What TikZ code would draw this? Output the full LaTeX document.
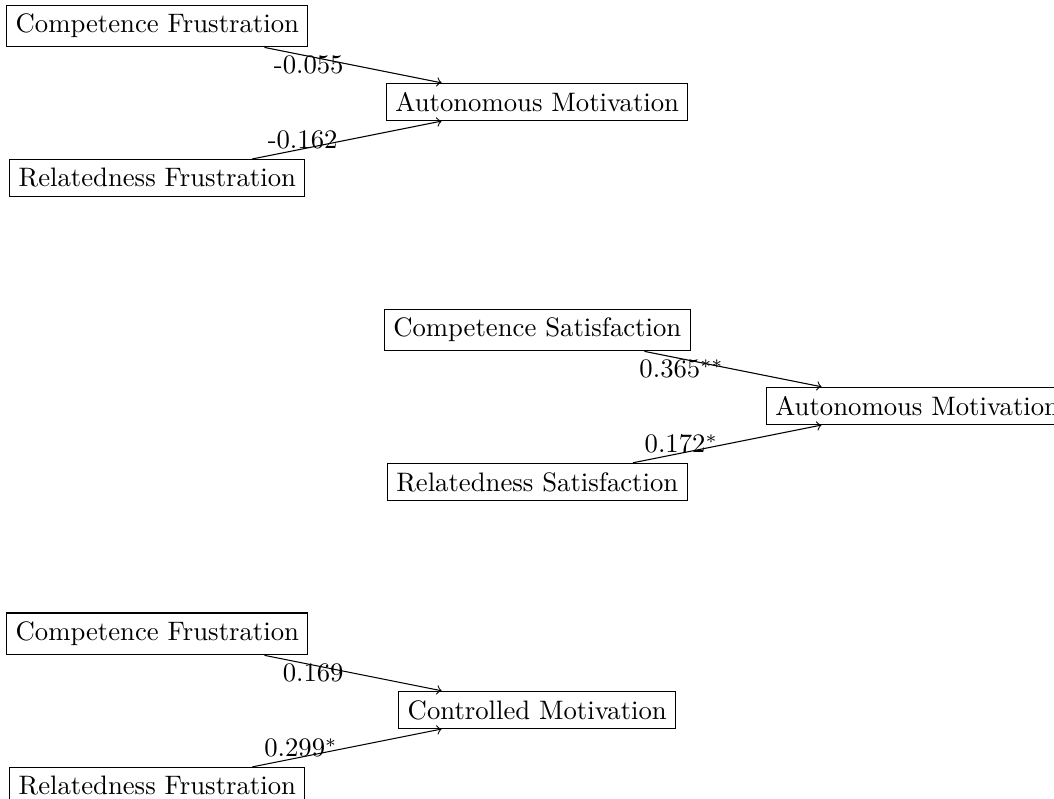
\documentclass[tikz,border=0pt]{standalone}
\begin{document}
\begin{tikzpicture}[box/.style={draw,rectangle}]
        \clip (-2.07,0.342) rectangle (11.80,-10.16);
        % autonomous motivation, frustration
        \node[box] (cf1) at (0,0) {Competence Frustration};
        \node[box] (am1) at (5,-1) {Autonomous Motivation};
        \node[box] (rf1) at (0,-2) {Relatedness Frustration};
        \draw[->] (cf1) -- (am1) node[midway,left] {-0.055};
        \draw[->] (rf1) -- (am1) node[midway,left] {-0.162};
        % autonomous motivation, satisfaction
        \node[box] (cs2) at (5,-4) {Competence Satisfaction};
        \node[box] (am2) at (10,-5) {Autonomous Motivation};
        \node[box] (rs2) at (5,-6) {Relatedness Satisfaction};
        \draw[->] (cs2) -- (am2) node[midway,left] {0.365$^{**}$};
        \draw[->] (rs2) -- (am2) node[midway,left] {0.172$^{*}$};
        % controlled motivation, frustration
        \node[box] (cf3) at (0,-8) {Competence Frustration};
        \node[box] (cm3) at (5,-9) {Controlled Motivation};
        \node[box] (rf3) at (0,-10) {Relatedness Frustration};
        \draw[->] (cf3) -- (cm3) node[midway,left] {0.169};
        \draw[->] (rf3) -- (cm3) node[midway,left] {0.299$^{*}$};
    \end{tikzpicture}
\end{document}
